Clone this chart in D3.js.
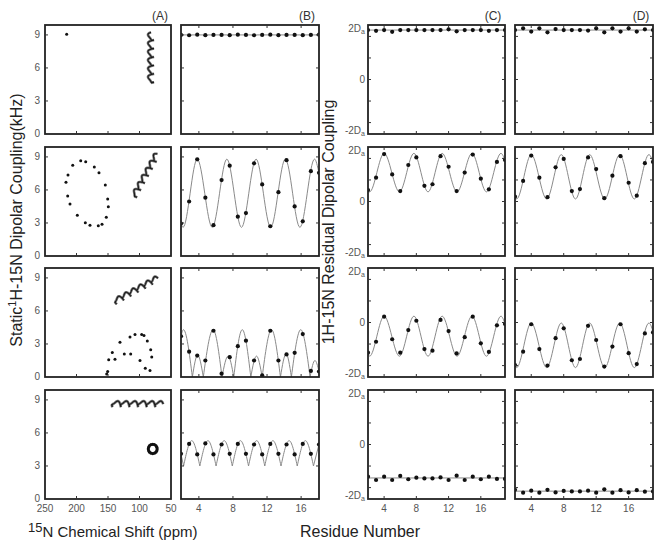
<!DOCTYPE html>
<html><head><meta charset="utf-8">
<script src="https://cdn.jsdelivr.net/npm/d3@7"></script>
<style>
body{margin:0;background:#fff}
svg{display:block}
text{font-family:"Liberation Sans",Arial,Helvetica,sans-serif}
</style>
</head><body>
<svg id="c" width="662" height="548"></svg>
<script>
// ---------------- DATA ----------------
const residues = [2,3,4,5,6,7,8,9,10,11,12,13,14,15,16,17,18,19];

// Column A: PISA wheels (15N shift ppm, 1H-15N coupling kHz)
const aRow1 = [[215.6,9.05]];
const aRow2 = [[216.7,6.7],[213.5,7.36],[214,5.45],[210.3,4.73],[206,8.25],[198.7,3.7],[193.3,8.64],[185.4,8.57],[186,3.03],[178.6,2.79],[171.7,8.09],[165.4,2.75],[164.3,7.57],[159.5,2.88],[154.3,6.45],[152.7,3.52],[150.5,5.18],[149.5,4.48]];
const aRow3 = [[152.1,0.28],[150.5,0.49],[148.9,1.56],[143.2,2.23],[138.9,1.62],[131,3.15],[124.1,2.08],[115.1,3.64],[114,2.08],[107.1,3.85],[99.2,1.5],[96.5,3.85],[92.9,3.76],[90.8,0.8],[87.6,3.28],[83.3,0.58],[82.2,2.48],[80.6,1.81]];
const aRow4 = [[86,4.55],[85.5,4.71],[84,4.85],[81.7,4.94],[79,4.97],[76.3,4.94],[74,4.85],[72.5,4.71],[72,4.55],[72.5,4.39],[74,4.25],[76.3,4.16],[79,4.13],[81.7,4.16],[84,4.25],[85.5,4.39]];
// helix icon axis ends [ppm, kHz] -> [ppm, kHz]
const helixIcons = [
  [[81.7,4.5],[81.7,9.1]],
  [[109.8,5.3],[72.7,9.15]],
  [[141.6,6.76],[72.7,8.9]],
  [[146.8,8.62],[64.8,8.62]]
];

// Column B: static dipolar waves (kHz)
const bRow1 = [9.0,8.97,9.02,8.98,9.0,9.0,8.98,9.02,9.0,8.97,9.0,9.02,8.98,9.0,9.0,8.98,9.0,9.02];
const bRow2 = [2.95,4.95,8.78,5.3,2.8,6.9,8.2,3.57,3.9,8.42,6.5,2.7,5.8,8.7,4.5,3.15,7.7,7.55];
const bRow3 = [3.7,2.3,1.95,1.5,4.2,0.3,1.8,2.8,3.3,1.5,0.15,4.2,1.5,2.05,2.2,3.9,0.55,0.5];
const bRow4 = [4.1,5.0,4.05,5.05,4.05,4.95,4.1,5.0,4.1,4.95,4.05,5.0,4.1,4.95,4.05,5.0,4.1,4.95];
const bCurve1 = [[2,9.0],[19,9.0]];
const bCurve2 = [[2,2.95],[2.25,2.6],[4.0,8.8],[5.85,2.6],[7.65,8.8],[9.45,2.6],[11.25,8.8],[13.05,2.6],[14.85,8.8],[16.65,2.6],[18.45,8.8],[19,7.5]];
const bCurve3 = [[2,3.7],[2.3,4.3],[3.4,0],[4.05,2.0],[4.75,0],[5.95,4.3],[7.05,0],[7.8,1.9],[8.5,0],[9.55,4.3],[10.6,0],[11.3,1.9],[12.0,0],[13.15,4.3],[14.25,0],[14.95,2.1],[15.6,0],[16.75,4.3],[17.9,0],[18.5,1.5],[19,0.5]];
const bCurve4 = [[2,4.05],[2.32,3.0],[3.32,5.3],[4.32,3.0],[5.32,5.3],[6.32,3.0],[7.32,5.3],[8.32,3.0],[9.32,5.3],[10.32,3.0],[11.32,5.3],[12.32,3.0],[13.32,5.3],[14.32,3.0],[15.32,5.3],[16.32,3.0],[17.32,5.3],[18.32,3.0],[19,4.97]];

// Column C: residual dipolar couplings (units of Da)
const cRow1 = [1.95,1.92,1.95,1.88,1.95,1.95,1.95,1.95,1.95,1.95,1.98,1.9,1.95,1.95,1.95,1.92,1.95,1.95];
const cRow2 = [0.45,0.94,1.87,1.07,0.41,1.44,1.74,0.62,0.68,1.79,1.37,0.41,1.14,1.85,0.9,0.48,1.56,1.64];
const cRow3 = [-1.19,-0.76,0.23,-0.66,-1.19,-0.3,0.07,-1.05,-1.11,0.1,-0.34,-1.22,-0.58,0.23,-0.82,-1.16,-0.11,-0.06];
const cRow4 = [-1.27,-1.4,-1.27,-1.4,-1.24,-1.37,-1.31,-1.34,-1.34,-1.3,-1.4,-1.23,-1.4,-1.27,-1.37,-1.27,-1.36,-1.36];
const cCurve1 = [[2,1.95],[19,1.95]];
const cCurve2 = [[2,0.45],[2.2,0.38],[4.0,1.9],[5.9,0.38],[7.7,1.9],[9.45,0.38],[11.2,1.9],[13.05,0.38],[14.9,1.9],[16.7,0.38],[18.5,1.9],[19,1.62]];
const cCurve3 = [[2,-1.22],[2.2,-1.33],[4.0,0.25],[5.9,-1.33],[7.7,0.25],[9.45,-1.33],[11.2,0.25],[13.05,-1.33],[14.9,0.25],[16.7,-1.33],[18.5,0.25],[19,-0.05]];
const cCurve4 = [[2,-1.32],[19,-1.32]];

// Column D
const dRow1 = [1.95,2.02,1.89,2.02,1.86,1.99,1.95,1.95,1.95,1.93,2.02,1.86,2.02,1.89,2.02,1.89,1.98,1.95];
const dRow2 = [0.19,0.81,1.81,0.94,0.17,1.35,1.68,0.41,0.49,1.74,1.28,0.13,1.02,1.79,0.74,0.23,1.51,1.56];
const dRow3 = [-1.68,-1.15,-0.07,-1.05,-1.7,-0.62,-0.23,-1.49,-1.44,-0.13,-0.69,-1.74,-0.95,-0.07,-1.21,-1.64,-0.43,-0.39];
const dRow4 = [-1.79,-1.9,-1.82,-1.9,-1.79,-1.89,-1.83,-1.85,-1.85,-1.82,-1.9,-1.77,-1.9,-1.8,-1.89,-1.8,-1.86,-1.85];
const dCurve1 = [[2,1.95],[19,1.95]];
const dCurve2 = [[2,0.18],[2.2,0.1],[4.0,1.85],[5.9,0.1],[7.7,1.85],[9.45,0.1],[11.2,1.85],[13.05,0.1],[14.9,1.85],[16.7,0.1],[18.5,1.85],[19,1.55]];
const dCurve3 = [[2,-1.68],[2.2,-1.78],[4.0,-0.02],[5.9,-1.78],[7.7,-0.02],[9.45,-1.78],[11.2,-0.02],[13.05,-1.78],[14.9,-0.02],[16.7,-1.78],[18.5,-0.02],[19,-0.35]];
const dCurve4 = [[2,-1.84],[19,-1.84]];

// tick values / labels
const ppmTicks = [250,200,150,100,50];
const khzTicks = [0,3,6,9];
const resTicks = [4,8,12,16];
const rdcTickMarks = [-1.7,-0.85,0,0.85,1.7];
const rdcLabels = [{v:2,main:"2D",sub:"a"},{v:0,main:"0",sub:""},{v:-2,main:"-2D",sub:"a"}];
const panelTags = ["(A)","(B)","(C)","(D)"];

// ---------------- LAYOUT ----------------
const svg = d3.select("#c");
const cols = [{x0:45,x1:171},{x0:181,x1:319},{x0:368,x1:505},{x0:515,x1:653}];
const rowsPx = [[25,134],[147,256],[268,377],[390,499]];
const frameColor = "#222", tickColor = "#333", labColor = "#555", curveColor = "#8a8a8a";

const xA = d3.scaleLinear().domain([250,50]).range([cols[0].x0, cols[0].x1]);
const xBpts = d3.scaleLinear().domain([2,19]).range([cols[1].x0, cols[1].x1]);
const xBaxis = d3.scaleLinear().domain([1.9,18.1]).range([cols[1].x0, cols[1].x1]);
const xC = d3.scaleLinear().domain([2,19]).range([cols[2].x0, cols[2].x1]);
const xD = d3.scaleLinear().domain([2,19]).range([cols[3].x0, cols[3].x1]);
const yK = r => d3.scaleLinear().domain([0,9.9]).range([rowsPx[r][1], rowsPx[r][0]]);
const yR = r => d3.scaleLinear().domain([-2.15,2.15]).range([rowsPx[r][1], rowsPx[r][0]]);

const defs = svg.append("defs");
let clipId = 0;
function panel(ci, ri){
  const c = cols[ci], [y0,y1] = rowsPx[ri];
  const id = "clip"+(clipId++);
  defs.append("clipPath").attr("id",id).append("rect")
    .attr("x",c.x0).attr("y",y0).attr("width",c.x1-c.x0).attr("height",y1-y0);
  const g = svg.append("g");
  const inner = g.append("g").attr("clip-path",`url(#${id})`);
  return {g, inner, c, y0, y1};
}
function frame(p){
  p.g.append("rect").attr("x",p.c.x0).attr("y",p.y0)
    .attr("width",p.c.x1-p.c.x0).attr("height",p.y1-p.y0)
    .attr("fill","none").attr("stroke",frameColor).attr("stroke-width",1.8);
}
function ticks(p, xs, xsc, ys, ysc, sides){
  const L = 3;
  xs.forEach(v=>{
    const x = xsc(v);
    if(sides.bottom) p.g.append("line").attr("x1",x).attr("x2",x).attr("y1",p.y1).attr("y2",p.y1-L).attr("stroke",tickColor).attr("stroke-width",1);
    if(sides.top) p.g.append("line").attr("x1",x).attr("x2",x).attr("y1",p.y0).attr("y2",p.y0+L).attr("stroke",tickColor).attr("stroke-width",1);
  });
  ys.forEach(v=>{
    const y = ysc(v);
    if(sides.left) p.g.append("line").attr("x1",p.c.x0).attr("x2",p.c.x0+L).attr("y1",y).attr("y2",y).attr("stroke",tickColor).attr("stroke-width",1);
    if(sides.right) p.g.append("line").attr("x1",p.c.x1).attr("x2",p.c.x1-L).attr("y1",y).attr("y2",y).attr("stroke",tickColor).attr("stroke-width",1);
  });
}
function smoothCurve(p, data, xs, ys, cusp){
  const line = d3.line().x(d=>xs(d[0])).y(d=>ys(d[1])).curve(d3.curveMonotoneX);
  let segs = [data];
  if(cusp){
    segs = []; let cur = [data[0]];
    for(let i=1;i<data.length;i++){
      cur.push(data[i]);
      if(i<data.length-1 && data[i][1]<data[i-1][1] && data[i][1]<data[i+1][1]){
        segs.push(cur); cur=[data[i]];
      }
    }
    segs.push(cur);
  }
  segs.forEach(s=>p.inner.append("path").attr("d",line(s)).attr("fill","none")
    .attr("stroke",curveColor).attr("stroke-width",1));
}
function dots(p, vals, xs, ys, r){
  p.inner.selectAll(null).data(vals).enter().append("circle")
    .attr("cx",(d,i)=>xs(residues[i])).attr("cy",d=>ys(d)).attr("r",r).attr("fill","#111");
}
// decorative helix icon (drawn along the axis given in helixIcons)
function helix(p, ends, ys){
  const [a,b] = ends;
  const x0=xA(a[0]), y0=ys(a[1]), x1=xA(b[0]), y1=ys(b[1]);
  const L = Math.hypot(x1-x0,y1-y0), ux=(x1-x0)/L, uy=(y1-y0)/L, nx=-uy, ny=ux;
  const turns = 6, steps = 300;
  const strand = (ra, rb, off) => d3.range(steps+1).map(k=>{
    const t = k/steps, ph = 2*Math.PI*turns*t + off;
    const s = t*L + ra*Math.cos(ph), w = rb*Math.sin(ph) + 0.9*Math.sin(2*ph);
    return [x0+ux*s+nx*w, y0+uy*s+ny*w];
  });
  const line = d3.line().curve(d3.curveLinear);
  const s1 = strand(1.5, 2.6, 0);
  p.inner.append("path").attr("d",line(s1)).attr("fill","none").attr("stroke","#777").attr("stroke-width",2.6);
  p.inner.append("path").attr("d",line(s1)).attr("fill","none").attr("stroke","#1a1a1a").attr("stroke-width",1.1);
}
function tickText(x,y,txt,anchor,base){
  svg.append("text").attr("x",x).attr("y",y).attr("text-anchor",anchor)
    .attr("dominant-baseline",base||"middle").attr("font-size",10).attr("fill",labColor).text(txt);
}

// ---------------- COLUMN A ----------------
const aRows = [aRow1,aRow2,aRow3,aRow4];
aRows.forEach((rowPts,ri)=>{
  const p = panel(0,ri), ys = yK(ri);
  helix(p, helixIcons[ri], ys);
  p.inner.selectAll(null).data(rowPts).enter().append("circle")
    .attr("cx",d=>xA(d[0])).attr("cy",d=>ys(d[1])).attr("r",ri===3?1.6:1.5).attr("fill","#111");
  frame(p);
  ticks(p, [200,150,100], xA, [3,6,9], ys, {bottom:true,left:true});
  khzTicks.forEach(v=>tickText(cols[0].x0-5, ys(v), String(v), "end"));
});
ppmTicks.forEach(v=>tickText(xA(v), 509, String(v), "middle"));

// ---------------- COLUMN B ----------------
const bRows = [bRow1,bRow2,bRow3,bRow4], bCurves=[bCurve1,bCurve2,bCurve3,bCurve4];
bRows.forEach((vals,ri)=>{
  const p = panel(1,ri), ys = yK(ri);
  smoothCurve(p, bCurves[ri], xBpts, ys, ri>=2);
  dots(p, vals, xBpts, ys, 2.1);
  frame(p);
  ticks(p, resTicks, xBaxis, [3,6,9], ys, {bottom:true,top:true,left:true,right:true});
});
resTicks.forEach(v=>tickText(xBaxis(v), 509, String(v), "middle"));

// ---------------- COLUMNS C, D ----------------
const cdCols = [
  {ci:2, xs:xC, rows:[cRow1,cRow2,cRow3,cRow4], curves:[cCurve1,cCurve2,cCurve3,cCurve4]},
  {ci:3, xs:xD, rows:[dRow1,dRow2,dRow3,dRow4], curves:[dCurve1,dCurve2,dCurve3,dCurve4]}
];
cdCols.forEach(col=>{
  col.rows.forEach((vals,ri)=>{
    const p = panel(col.ci,ri), ys = yR(ri);
    smoothCurve(p, col.curves[ri], col.xs, ys, false);
    dots(p, vals, col.xs, ys, 2.1);
    frame(p);
    ticks(p, resTicks, col.xs, rdcTickMarks, ys, {bottom:true,top:true,left:true,right:true});
    if(col.ci===2){
      rdcLabels.forEach(l=>{
        const t = svg.append("text").attr("x",cols[2].x0-3).attr("y",ys(l.v)+3.5)
          .attr("text-anchor","end").attr("font-size",10).attr("fill",labColor);
        t.append("tspan").text(l.main);
        if(l.sub) t.append("tspan").attr("font-size",7).attr("dy",2).text(l.sub);
      });
    }
  });
  resTicks.forEach(v=>tickText(col.xs(v), 509, String(v), "middle"));
});

// ---------------- TITLES ----------------
const tagX = [160,307,493,641];
panelTags.forEach((t,i)=>svg.append("text").attr("x",tagX[i]).attr("y",20)
  .attr("text-anchor","middle").attr("font-size",12).attr("fill","#333").text(t));

const yl = svg.append("text").attr("transform","translate(22,220) rotate(-90)")
  .attr("text-anchor","middle").attr("font-size",16).attr("fill","#222");
yl.append("tspan").text("Static");
yl.append("tspan").attr("font-size",11).attr("dy",-6).text("1");
yl.append("tspan").attr("dy",6).text("H-15N Dipolar Coupling(kHz)");

svg.append("text").attr("transform","translate(334,222) rotate(-90)")
  .attr("text-anchor","middle").attr("font-size",16).attr("fill","#222")
  .text("1H-15N Residual Dipolar Coupling");

const xl = svg.append("text").attr("x",28).attr("y",537).attr("font-size",15).attr("fill","#222");
xl.append("tspan").attr("font-size",13).attr("dy",-5).text("15");
xl.append("tspan").attr("dy",5).text("N Chemical Shift (ppm)");

svg.append("text").attr("x",300).attr("y",537).attr("font-size",16).attr("fill","#222").text("Residue Number");
</script>
</body></html>
